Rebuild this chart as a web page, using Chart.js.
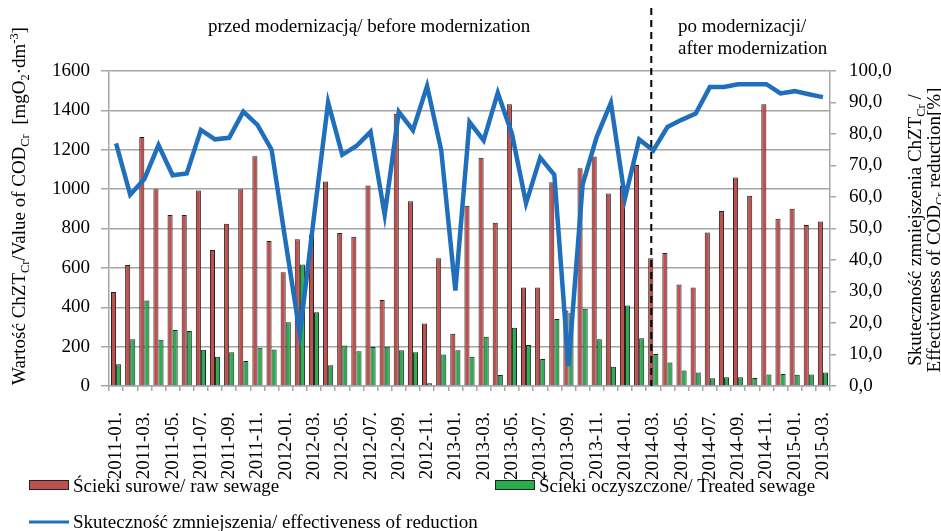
<!DOCTYPE html>
<html>
<head>
<meta charset="utf-8">
<script src="https://cdn.jsdelivr.net/npm/chart.js@4.4.0/dist/chart.umd.min.js"></script>
<style>
  html, body { margin: 0; padding: 0; background: #fff; }
  #wrap { width: 941px; height: 531px; position: relative; }
</style>
</head>
<body>
<div id="wrap"><canvas id="chart"></canvas></div>
<script>
// Miesiace 2011-01 .. 2015-03
const months = [
    '2011-01.', '2011-02.', '2011-03.', '2011-04.', '2011-05.', '2011-06.',
    '2011-07.', '2011-08.', '2011-09.', '2011-10.', '2011-11.', '2011-12.',
    '2012-01.', '2012-02.', '2012-03.', '2012-04.', '2012-05.', '2012-06.',
    '2012-07.', '2012-08.', '2012-09.', '2012-10.', '2012-11.', '2012-12.',
    '2013-01.', '2013-02.', '2013-03.', '2013-04.', '2013-05.', '2013-06.',
    '2013-07.', '2013-08.', '2013-09.', '2013-10.', '2013-11.', '2013-12.',
    '2014-01.', '2014-02.', '2014-03.', '2014-04.', '2014-05.', '2014-06.',
    '2014-07.', '2014-08.', '2014-09.', '2014-10.', '2014-11.', '2014-12.',
    '2015-01.', '2015-02.', '2015-03.'
];

// ChZT scieki surowe [mgO2/dm3]
const rawSewage = [
    478, 615, 1265, 1000, 868, 868, 993, 691, 824, 1000, 1167, 736,
    578, 745, 770, 1039, 777, 758, 1019, 437, 1383, 939, 318, 649,
    265, 916, 1160, 829, 1431, 500, 500, 1035, 383, 1106, 1166, 978,
    1017, 1123, 649, 676, 515, 500, 780, 889, 1059, 966, 1431, 850,
    900, 818, 836
];

// ChZT scieki oczyszczone [mgO2/dm3]
const treatedSewage = [
    110, 238, 434, 235, 284, 279, 184, 149, 172, 127, 194, 186,
    324, 617, 375, 105, 206, 177, 198, 199, 182, 172, 14, 160,
    182, 149, 250, 56, 296, 208, 137, 340, 370, 392, 238, 98,
    409, 243, 162, 120, 79, 69, 39, 44, 44, 41, 59, 61,
    57, 59, 69
];

// Skutecznosc zmniejszenia [%]
const effectiveness = [
    77.0, 60.7, 65.7, 76.5, 66.9, 67.5, 81.3, 78.3, 78.8, 87.1, 82.9, 75.0,
    45.5, 16.6, 53.8, 90.0, 73.4, 76.2, 80.7, 54.4, 87.0, 81.2, 95.2, 74.8,
    30.3, 83.8, 78.0, 93.1, 80.1, 58.0, 72.5, 67.0, 6.3, 63.9, 79.1, 89.9,
    59.6, 78.3, 74.8, 82.2, 84.5, 86.5, 94.9, 94.9, 95.8, 95.8, 95.8, 92.9,
    93.6, 92.6, 91.7
];

const leftTicks = [0, 200, 400, 600, 800, 1000, 1200, 1400, 1600];
const rightTicks = [0, 10, 20, 30, 40, 50, 60, 70, 80, 90, 100];
const modernizationMonth = '2014-03.';

const FONT = '"Liberation Serif", "Times New Roman", serif';
const RED = '#c0504d';
const GREEN = '#2aad4f';
const BLUE = '#1f6fbd';
const GRID = '#a6a6a6';

// Tekst z indeksami dolnymi/gornymi: [tekst, 0 zwykly | 1 dolny | 2 gorny]
function richWidth(ctx, runs, size) {
    let w = 0;
    runs.forEach(r => {
        ctx.font = (r[1] ? size * 0.65 : size) + 'px ' + FONT;
        w += ctx.measureText(r[0]).width;
    });
    return w;
}

function drawRich(ctx, runs, x, y, size) {
    runs.forEach(r => {
        const s = r[1] ? size * 0.65 : size;
        const dy = r[1] === 1 ? size * 0.22 : (r[1] === 2 ? -size * 0.38 : 0);
        ctx.font = s + 'px ' + FONT;
        ctx.fillText(r[0], x, y + dy);
        x += ctx.measureText(r[0]).width;
    });
}

function drawRotated(ctx, runs, cx, cy, size) {
    ctx.save();
    ctx.translate(cx, cy);
    ctx.rotate(-Math.PI / 2);
    drawRich(ctx, runs, -richWidth(ctx, runs, size) / 2, 0, size);
    ctx.restore();
}

const leftTitle = [['Wartość ChZT', 0], ['Cr', 1], ['/Value of COD', 0], ['Cr', 1],
    ['  [mgO', 0], ['2', 1], ['·dm', 0], ['-3', 2], [']', 0]];
const rightTitle1 = [['Skuteczność zmniejszenia ChZT', 0], ['Cr', 1], [' /', 0]];
const rightTitle2 = [['Effectiveness of COD', 0], ['Cr', 1], [' reduction[%]', 0]];

// Napisy, linia przerywana, tytuly osi i legenda
const extras = {
    id: 'extras',
    afterDatasetsDraw(chart) {
        const ctx = chart.ctx;
        const x = chart.scales.x.getPixelForValue(months.indexOf(modernizationMonth)) - 2;
        ctx.save();
        ctx.strokeStyle = '#000';
        ctx.lineWidth = 2;
        ctx.setLineDash([7, 5]);
        ctx.beginPath();
        ctx.moveTo(x, 8);
        ctx.lineTo(x, chart.chartArea.bottom);
        ctx.stroke();
        ctx.restore();
    },
    afterDraw(chart) {
        const ctx = chart.ctx;
        ctx.save();
        ctx.fillStyle = '#000';
        ctx.textBaseline = 'alphabetic';

        ctx.font = '19px ' + FONT;
        ctx.fillText('przed modernizacją/ before modernization', 208, 32);
        ctx.fillText('po modernizacji/', 678, 32);
        ctx.fillText('after modernization', 678, 54);

        drawRotated(ctx, leftTitle, 25, 206, 19);
        drawRotated(ctx, rightTitle1, 921, 230, 19);
        drawRotated(ctx, rightTitle2, 940, 230, 19);

        // legenda
        const ds = chart.data.datasets;
        ctx.font = '19px ' + FONT;
        ctx.lineWidth = 1;
        ctx.strokeStyle = '#222';
        ctx.fillStyle = ds[0].backgroundColor;
        ctx.fillRect(29, 480, 40, 10);
        ctx.strokeRect(29.5, 480.5, 39, 9);
        ctx.fillStyle = ds[1].backgroundColor;
        ctx.fillRect(495, 480, 40, 10);
        ctx.strokeRect(495.5, 480.5, 39, 9);
        ctx.strokeStyle = ds[2].borderColor;
        ctx.lineWidth = 3;
        ctx.beginPath();
        ctx.moveTo(29, 522);
        ctx.lineTo(69, 522);
        ctx.stroke();

        ctx.fillStyle = '#000';
        ctx.fillText(ds[0].label, 73, 492);
        ctx.fillText(ds[1].label, 539, 492);
        ctx.fillText(ds[2].label, 73, 528);
        ctx.restore();
    }
};

new Chart(document.getElementById('chart'), {
    type: 'bar',
    data: {
        labels: months,
        datasets: [
            {
                label: 'Ścieki surowe/ raw sewage',
                data: rawSewage,
                backgroundColor: RED,
                borderColor: '#222',
                borderWidth: 1,
                categoryPercentage: 0.72,
                barPercentage: 1.0,
                yAxisID: 'y',
                order: 1
            },
            {
                label: 'Ścieki oczyszczone/ Treated sewage',
                data: treatedSewage,
                backgroundColor: GREEN,
                borderColor: '#222',
                borderWidth: 1,
                categoryPercentage: 0.72,
                barPercentage: 1.0,
                yAxisID: 'y',
                order: 2
            },
            {
                type: 'line',
                label: 'Skuteczność zmniejszenia/ effectiveness of reduction',
                data: effectiveness,
                borderColor: BLUE,
                backgroundColor: BLUE,
                borderWidth: 4.5,
                pointRadius: 0,
                tension: 0,
                yAxisID: 'y1',
                order: 0
            }
        ]
    },
    options: {
        responsive: true,
        maintainAspectRatio: false,
        animation: false,
        layout: { padding: { top: 71, left: 0, right: 0, bottom: 0 } },
        plugins: {
            legend: { display: false },
            tooltip: { enabled: false }
        },
        scales: {
            x: {
                grid: { offset: true, drawOnChartArea: false, tickLength: 5, color: GRID, lineWidth: 1.5 },
                border: { color: GRID, width: 1.5 },
                ticks: {
                    autoSkip: false,
                    minRotation: 90,
                    maxRotation: 90,
                    padding: 21,
                    color: '#000',
                    font: { family: FONT, size: 19 },
                    callback: (v, i) => i % 2 === 0 ? months[i] : ''
                },
                afterFit: s => { s.height = 145; }
            },
            y: {
                position: 'left',
                min: leftTicks[0],
                max: leftTicks[leftTicks.length - 1],
                afterBuildTicks: s => { s.ticks = leftTicks.map(v => ({ value: v })); },
                ticks: {
                    color: '#000',
                    padding: 11,
                    font: { family: FONT, size: 19 },
                    callback: v => String(v)
                },
                grid: { color: GRID, lineWidth: 1.5, tickLength: 8 },
                border: { color: GRID, width: 1.5 },
                afterFit: s => { s.width = 109; }
            },
            y1: {
                position: 'right',
                min: rightTicks[0],
                max: rightTicks[rightTicks.length - 1],
                afterBuildTicks: s => { s.ticks = rightTicks.map(v => ({ value: v })); },
                ticks: {
                    color: '#000',
                    padding: 13,
                    font: { family: FONT, size: 19 },
                    callback: v => v.toFixed(1).replace('.', ',')
                },
                grid: { drawOnChartArea: false, color: GRID, lineWidth: 1.5, tickLength: 6 },
                border: { color: GRID, width: 1.5 },
                afterFit: s => { s.width = 111; }
            }
        }
    },
    plugins: [extras]
});
</script>
</body>
</html>
